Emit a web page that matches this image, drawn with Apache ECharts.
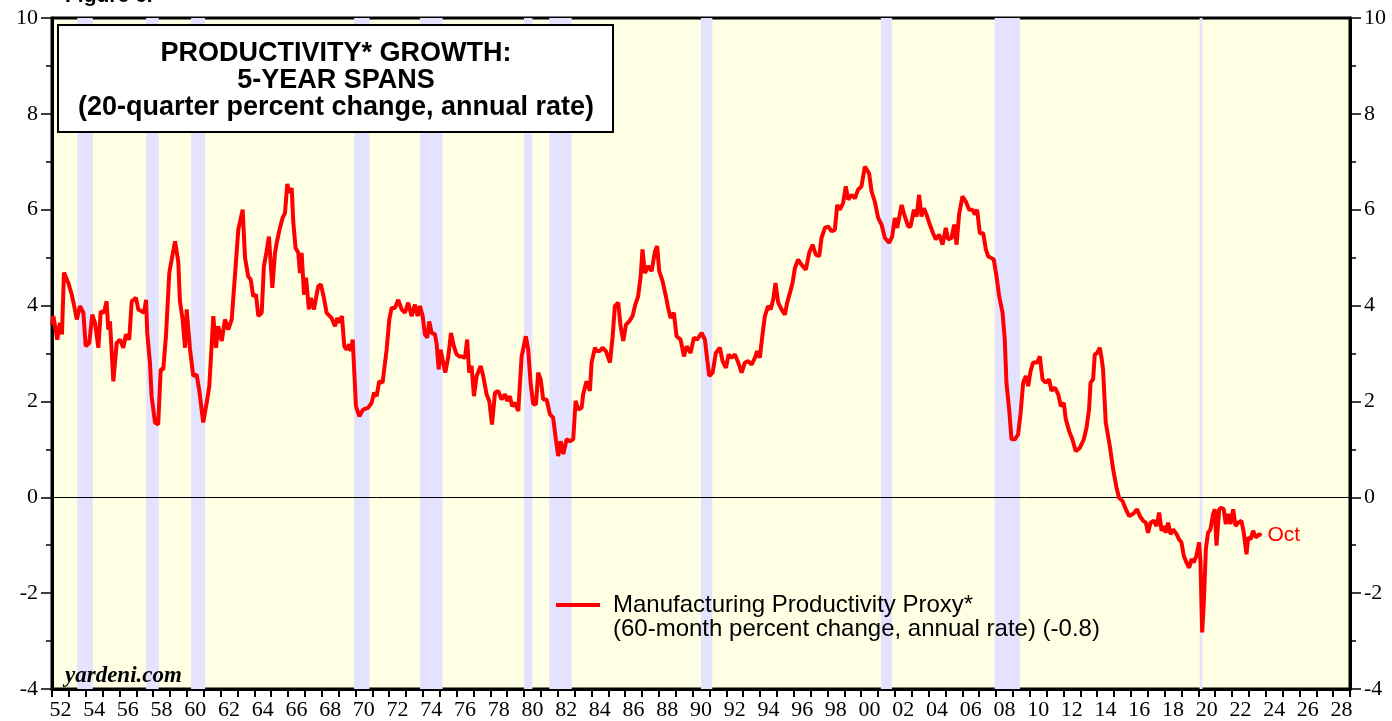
<!DOCTYPE html>
<html>
<head>
<meta charset="utf-8">
<title>Productivity Growth: 5-Year Spans</title>
<script src="https://cdn.jsdelivr.net/npm/echarts@6/dist/echarts.min.js"></script>
<style>
  html, body { margin: 0; padding: 0; background: #fff; }
  #chart { width: 1392px; height: 721px; }
</style>
</head>
<body>
<div id="chart"></div>
<script>
const obsYears = [
  1952.00, 1952.08, 1952.31, 1952.47, 1952.59, 1952.71, 1952.97, 1953.17, 1953.30, 1953.47,
  1953.66, 1953.86, 1954.00, 1954.21, 1954.39, 1954.55, 1954.75, 1954.89, 1955.08, 1955.24,
  1955.34, 1955.44, 1955.64, 1955.84, 1956.03, 1956.23, 1956.39, 1956.58, 1956.73, 1956.98,
  1957.12, 1957.32, 1957.46, 1957.58, 1957.65, 1957.81, 1957.91, 1958.11, 1958.30, 1958.45,
  1958.60, 1958.76, 1958.96, 1959.10, 1959.30, 1959.49, 1959.59, 1959.75, 1959.89, 1959.99,
  1960.08, 1960.19, 1960.38, 1960.58, 1960.74, 1960.97, 1961.18, 1961.33, 1961.57, 1961.73,
  1961.86, 1962.07, 1962.26, 1962.46, 1962.66, 1962.85, 1963.05, 1963.31, 1963.45, 1963.64,
  1963.79, 1963.94, 1964.10, 1964.24, 1964.44, 1964.57, 1964.73, 1964.87, 1965.07, 1965.23,
  1965.33, 1965.52, 1965.68, 1965.82, 1965.96, 1966.07, 1966.22, 1966.31, 1966.45, 1966.61,
  1966.71, 1966.81, 1966.95, 1967.07, 1967.24, 1967.36, 1967.54, 1967.79, 1967.95, 1968.13,
  1968.29, 1968.59, 1968.79, 1968.92, 1969.04, 1969.20, 1969.34, 1969.48, 1969.63, 1969.72,
  1969.84, 1970.03, 1970.23, 1970.46, 1970.76, 1970.96, 1971.10, 1971.26, 1971.41, 1971.61,
  1971.85, 1972.01, 1972.15, 1972.34, 1972.54, 1972.74, 1972.94, 1973.13, 1973.33, 1973.53,
  1973.69, 1973.83, 1973.99, 1974.12, 1974.26, 1974.38, 1974.52, 1974.72, 1974.82, 1974.94,
  1975.05, 1975.17, 1975.33, 1975.51, 1975.67, 1975.84, 1976.00, 1976.16, 1976.30, 1976.50,
  1976.63, 1976.75, 1976.89, 1977.03, 1977.19, 1977.43, 1977.58, 1977.78, 1977.94, 1978.10,
  1978.28, 1978.47, 1978.67, 1978.87, 1979.00, 1979.16, 1979.30, 1979.46, 1979.66, 1979.86,
  1980.11, 1980.25, 1980.39, 1980.55, 1980.71, 1980.84, 1980.99, 1981.14, 1981.34, 1981.54,
  1981.73, 1981.89, 1982.03, 1982.17, 1982.33, 1982.53, 1982.72, 1982.92, 1983.06, 1983.22,
  1983.42, 1983.51, 1983.71, 1983.91, 1984.01, 1984.21, 1984.31, 1984.50, 1984.66, 1984.86,
  1985.10, 1985.26, 1985.39, 1985.59, 1985.73, 1985.89, 1986.05, 1986.24, 1986.44, 1986.60,
  1986.77, 1986.92, 1987.03, 1987.17, 1987.37, 1987.57, 1987.77, 1987.90, 1988.02, 1988.22,
  1988.42, 1988.55, 1988.70, 1988.89, 1989.05, 1989.29, 1989.49, 1989.65, 1989.88, 1990.08,
  1990.27, 1990.54, 1990.73, 1990.87, 1990.99, 1991.19, 1991.38, 1991.62, 1991.78, 1991.98,
  1992.14, 1992.31, 1992.51, 1992.71, 1992.91, 1993.10, 1993.30, 1993.50, 1993.70, 1993.83,
  1993.99, 1994.15, 1994.29, 1994.48, 1994.63, 1994.78, 1994.92, 1995.08, 1995.28, 1995.48,
  1995.61, 1995.77, 1995.93, 1996.07, 1996.26, 1996.47, 1996.72, 1996.92, 1997.12, 1997.31,
  1997.51, 1997.65, 1997.85, 1998.04, 1998.25, 1998.44, 1998.58, 1998.74, 1998.93, 1999.09,
  1999.23, 1999.43, 1999.63, 1999.82, 2000.02, 2000.22, 2000.47, 2000.62, 2000.81, 2001.01,
  2001.21, 2001.41, 2001.66, 2001.84, 2002.00, 2002.14, 2002.40, 2002.59, 2002.79, 2002.93,
  2003.13, 2003.29, 2003.44, 2003.58, 2003.72, 2003.88, 2004.07, 2004.27, 2004.43, 2004.63,
  2004.83, 2005.02, 2005.16, 2005.36, 2005.52, 2005.66, 2005.81, 2006.01, 2006.21, 2006.41,
  2006.61, 2006.74, 2006.88, 2007.04, 2007.24, 2007.40, 2007.53, 2007.73, 2007.87, 2008.03,
  2008.19, 2008.39, 2008.52, 2008.62, 2008.78, 2008.92, 2009.12, 2009.31, 2009.46, 2009.61,
  2009.77, 2009.91, 2010.05, 2010.20, 2010.44, 2010.60, 2010.76, 2010.96, 2011.15, 2011.29,
  2011.49, 2011.69, 2011.85, 2012.02, 2012.14, 2012.34, 2012.53, 2012.73, 2012.97, 2013.21,
  2013.37, 2013.52, 2013.61, 2013.76, 2013.86, 2014.00, 2014.16, 2014.26, 2014.35, 2014.51,
  2014.75, 2014.95, 2015.15, 2015.30, 2015.51, 2015.70, 2015.90, 2016.13, 2016.37, 2016.53,
  2016.73, 2016.89, 2017.02, 2017.17, 2017.36, 2017.52, 2017.68, 2017.82, 2017.96, 2018.07,
  2018.21, 2018.35, 2018.51, 2018.71, 2018.86, 2019.00, 2019.14, 2019.30, 2019.46, 2019.60,
  2019.73, 2019.89, 2020.05, 2020.13, 2020.23, 2020.33, 2020.45, 2020.58, 2020.72, 2020.88,
  2020.98, 2021.08, 2021.24, 2021.38, 2021.51, 2021.63, 2021.77, 2021.91, 2022.07, 2022.21,
  2022.36, 2022.56, 2022.70, 2022.86, 2022.96, 2023.10, 2023.25, 2023.41, 2023.61, 2023.75
];

// manufacturing productivity proxy, 60-month % change, annual rate
const proxyValues = [
  3.60, 3.78, 3.29, 3.64, 3.40, 4.69, 4.47, 4.23, 4.02, 3.71,
  3.99, 3.85, 3.15, 3.22, 3.81, 3.64, 3.12, 3.88, 3.85, 4.09,
  3.50, 3.67, 2.42, 3.22, 3.29, 3.12, 3.40, 3.29, 4.09, 4.16,
  3.92, 3.88, 3.85, 4.12, 3.43, 2.81, 2.11, 1.56, 1.52, 2.67,
  2.67, 3.36, 4.69, 4.96, 5.34, 4.92, 4.09, 3.71, 3.12, 3.92,
  3.92, 3.08, 2.53, 2.56, 2.22, 1.56, 1.98, 2.32, 3.78, 3.12,
  3.57, 3.26, 3.71, 3.50, 3.71, 4.61, 5.58, 6.00, 5.00, 4.61,
  4.54, 4.19, 4.23, 3.78, 3.85, 4.82, 5.13, 5.44, 4.37, 5.10,
  5.31, 5.62, 5.83, 5.93, 6.54, 6.35, 6.45, 5.76, 5.20, 5.10,
  4.68, 5.10, 4.23, 4.58, 3.92, 4.16, 3.92, 4.40, 4.44, 4.16,
  3.85, 3.74, 3.57, 3.74, 3.64, 3.78, 3.15, 3.08, 3.19, 3.05,
  3.29, 1.90, 1.69, 1.83, 1.87, 1.97, 2.18, 2.11, 2.42, 2.39,
  3.08, 3.71, 3.95, 3.95, 4.12, 3.92, 3.85, 4.06, 3.78, 4.02,
  3.78, 3.99, 3.78, 3.40, 3.33, 3.67, 3.43, 3.40, 3.19, 2.67,
  3.08, 2.87, 2.60, 2.94, 3.43, 3.15, 2.98, 2.94, 2.94, 2.91,
  3.29, 2.60, 2.74, 2.11, 2.53, 2.74, 2.53, 2.15, 2.01, 1.52,
  2.18, 2.22, 2.04, 2.15, 2.01, 2.11, 1.90, 1.97, 1.80, 2.94,
  3.36, 3.08, 2.39, 1.94, 1.94, 2.60, 2.46, 2.04, 2.04, 1.73,
  1.66, 1.21, 0.86, 1.17, 0.90, 1.21, 1.17, 1.21, 2.01, 1.83,
  1.87, 2.15, 2.42, 2.22, 2.81, 3.12, 3.05, 3.05, 3.12, 3.05,
  2.81, 3.36, 3.99, 4.06, 3.57, 3.26, 3.60, 3.67, 3.78, 4.02,
  4.19, 4.61, 5.17, 4.68, 4.82, 4.72, 5.13, 5.24, 4.72, 4.51,
  4.19, 3.95, 3.74, 3.85, 3.36, 3.29, 2.94, 3.15, 3.01, 3.33,
  3.29, 3.43, 3.29, 2.87, 2.53, 2.60, 3.01, 3.12, 2.84, 2.70,
  2.98, 2.91, 2.98, 2.81, 2.60, 2.81, 2.84, 2.77, 2.91, 3.05,
  2.91, 3.40, 3.78, 3.99, 3.92, 4.12, 4.47, 4.06, 3.92, 3.81,
  4.06, 4.26, 4.47, 4.78, 4.96, 4.85, 4.75, 5.10, 5.27, 5.06,
  5.03, 5.41, 5.62, 5.65, 5.55, 5.58, 6.10, 6.00, 6.14, 6.49,
  6.21, 6.31, 6.24, 6.42, 6.49, 6.90, 6.76, 6.38, 6.17, 5.83,
  5.69, 5.41, 5.31, 5.44, 5.83, 5.62, 6.10, 5.86, 5.65, 5.65,
  6.00, 5.86, 6.31, 5.86, 6.03, 5.90, 5.69, 5.51, 5.38, 5.48,
  5.27, 5.62, 5.38, 5.41, 5.69, 5.27, 5.90, 6.28, 6.17, 6.00,
  6.00, 5.90, 6.00, 5.51, 5.51, 5.17, 5.03, 4.99, 4.96, 4.61,
  4.19, 3.85, 3.29, 2.39, 1.83, 1.21, 1.21, 1.31, 1.76, 2.39,
  2.53, 2.32, 2.63, 2.81, 2.81, 2.94, 2.46, 2.39, 2.46, 2.22,
  2.29, 2.15, 1.90, 1.97, 1.63, 1.38, 1.21, 0.96, 1.03, 1.21,
  1.45, 1.83, 2.39, 2.46, 2.98, 3.01, 3.12, 2.91, 2.67, 1.56,
  1.07, 0.58, 0.20, -0.01, -0.08, -0.25, -0.39, -0.35, -0.25, -0.39,
  -0.49, -0.53, -0.74, -0.53, -0.49, -0.60, -0.32, -0.70, -0.60, -0.74,
  -0.53, -0.77, -0.67, -0.77, -0.88, -0.94, -1.22, -1.36, -1.47, -1.29,
  -1.36, -1.22, -0.94, -1.36, -2.82, -2.19, -1.08, -0.74, -0.67, -0.35,
  -0.25, -1.01, -0.25, -0.22, -0.25, -0.56, -0.35, -0.56, -0.25, -0.60,
  -0.53, -0.49, -0.74, -1.19, -0.84, -0.88, -0.70, -0.84, -0.77, -0.80
];

// recessions (shaded bands)
const recessionStarts = [1953.50, 1957.58, 1960.25, 1969.92, 1973.83, 1980.00, 1981.50, 1990.50, 2001.17, 2007.92, 2020.08];
const recessionEnds   = [1954.42, 1958.33, 1961.08, 1970.83, 1975.17, 1980.50, 1982.83, 1991.17, 2001.83, 2009.42, 2020.25];

// x tick labels: one category per year, 1952..2028
const yearLabels = [];
for (let y = 1952; y <= 2028; y++) {
  yearLabels.push(String(y % 100).padStart(2, '0'));
}

const serif = 'Liberation Serif';
const sans = 'Liberation Sans';

const chart = echarts.init(document.getElementById('chart'));

const yAxisBase = {
  type: 'value',
  min: -4,
  max: 10,
  interval: 2,
  axisLine: { show: true, lineStyle: { color: '#000', width: 3 } },
  axisTick: { show: true, length: 11, lineStyle: { color: '#000', width: 1.5 } },
  minorTick: { show: true, splitNumber: 2, length: 6, lineStyle: { color: '#000', width: 1.5 } },
  axisLabel: { margin: 14, color: '#000', fontFamily: serif, fontSize: 22 },
  splitLine: { show: false }
};

const option = {
  animation: false,
  backgroundColor: '#fff',
  grid: {
    left: 52,
    right: 42,
    top: 18,
    bottom: 31,
    show: true,
    backgroundColor: '#FFFFE3',
    borderColor: '#000',
    borderWidth: 3
  },
  xAxis: [
    {
      // value axis carrying the data
      type: 'value',
      min: 1952,
      max: 2029,
      show: false
    },
    {
      // category axis for year ticks and labels
      type: 'category',
      data: yearLabels,
      boundaryGap: true,
      position: 'bottom',
      axisLine: { show: true, onZero: false, lineStyle: { color: '#000', width: 3 } },
      axisTick: { show: true, interval: 0, length: 8, lineStyle: { color: '#000', width: 2 } },
      axisLabel: { interval: 1, margin: 10, color: '#000', fontFamily: serif, fontSize: 22 },
      splitLine: { show: false }
    }
  ],
  yAxis: [
    Object.assign({}, yAxisBase, { position: 'left' }),
    Object.assign({}, yAxisBase, { position: 'right' })
  ],
  series: [
    {
      name: 'Manufacturing Productivity Proxy*',
      type: 'line',
      xAxisIndex: 0,
      yAxisIndex: 0,
      data: obsYears.map((yr, i) => [yr, proxyValues[i]]),
      showSymbol: false,
      symbol: 'none',
      lineStyle: { color: '#FF0000', width: 4 },
      itemStyle: { color: '#FF0000' },
      z: 5,
      endLabel: {
        show: true,
        formatter: 'Oct',
        distance: 6,
        color: '#FF0000',
        fontFamily: sans,
        fontSize: 21
      },
      markArea: {
        silent: true,
        itemStyle: { color: '#E3E3FF' },
        data: recessionStarts.map((s, i) => [{ xAxis: s }, { xAxis: recessionEnds[i] }])
      },
      markLine: {
        silent: true,
        symbol: ['none', 'none'],
        label: { show: false },
        lineStyle: { color: '#000', width: 1, type: 'solid' },
        data: [{ yAxis: 0 }]
      }
    }
  ],
  graphic: [
    {
      type: 'text',
      left: 65,
      top: -14,
      z: 100,
      style: { text: 'Figure 6.', fontFamily: sans, fontWeight: 'bold', fontSize: 21, fill: '#000' }
    },
    {
      type: 'rect',
      z: 100,
      shape: { x: 58, y: 25, width: 555, height: 107 },
      style: { fill: '#fff', stroke: '#000', lineWidth: 2 }
    },
    {
      type: 'text',
      z: 101,
      x: 336, y: 40,
      style: {
        text: 'PRODUCTIVITY* GROWTH:\n5-YEAR SPANS\n(20-quarter percent change, annual rate)',
        fontFamily: sans, fontWeight: 'bold', fontSize: 27, lineHeight: 27,
        align: 'center', fill: '#000'
      }
    },
    {
      type: 'line',
      z: 100,
      shape: { x1: 556, y1: 605, x2: 600, y2: 605 },
      style: { stroke: '#FF0000', lineWidth: 4 }
    },
    {
      type: 'text',
      left: 613,
      top: 593,
      z: 100,
      style: {
        text: 'Manufacturing Productivity Proxy*\n(60-month percent change, annual rate) (-0.8)',
        fontFamily: sans, fontSize: 24, lineHeight: 24, fill: '#000'
      }
    },
    {
      type: 'text',
      left: 65,
      top: 665,
      z: 100,
      style: {
        text: 'yardeni.com',
        fontFamily: serif, fontWeight: 'bold', fontStyle: 'italic', fontSize: 23, fill: '#000'
      }
    }
  ]
};

chart.setOption(option);
</script>
</body>
</html>
